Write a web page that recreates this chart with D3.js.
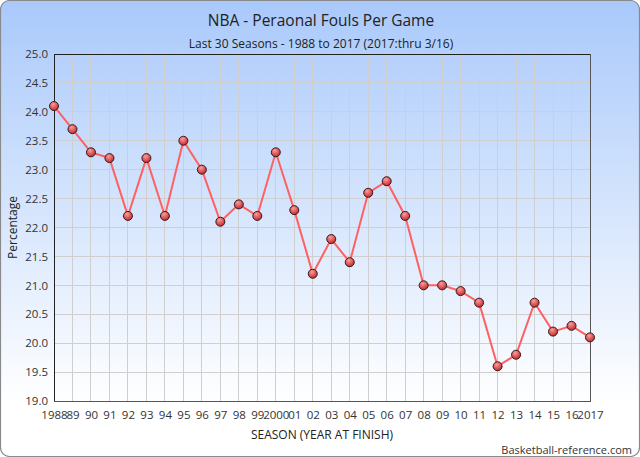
<!DOCTYPE html>
<html><head><meta charset="utf-8">
<script src="https://cdn.jsdelivr.net/npm/d3@7"></script>
<style>html,body{margin:0;padding:0;background:#fff;}svg{display:block;}</style>
</head><body>
<svg id="chart" width="640" height="457"></svg>
<script>
const seasons = ["1988","89","90","91","92","93","94","95","96","97","98","99","2000","01","02","03","04","05","06","07","08","09","10","11","12","13","14","15","16","2017"];
const fouls = [24.1,23.7,23.3,23.2,22.2,23.2,22.2,23.5,23.0,22.1,22.4,22.2,23.3,22.3,21.2,21.8,21.4,22.6,22.8,22.2,21.0,21.0,20.9,20.7,19.6,19.8,20.7,20.2,20.3,20.1];
const yTicks = [19.0,19.5,20.0,20.5,21.0,21.5,22.0,22.5,23.0,23.5,24.0,24.5,25.0];
const titleText = "NBA - Peraonal Fouls Per Game";
const subtitleText = "Last 30 Seasons - 1988 to 2017 (2017:thru 3/16)";
const xTitle = "SEASON (YEAR AT FINISH)";
const yTitle = "Percentage";
const credit = "Basketball-reference.com";

const W = 640, H = 457;
const m = {left:54, right:50, top:54, bottom:56};
const svg = d3.select("#chart");
const font = "'Open Sans', 'Noto Sans', sans-serif";
const defs = svg.append("defs");
const bg = defs.append("linearGradient").attr("id","bg").attr("x1",0).attr("y1",0).attr("x2",0).attr("y2",1);
bg.append("stop").attr("offset","0%").attr("stop-color","#a9c9fb");
bg.append("stop").attr("offset","88%").attr("stop-color","#ffffff");
bg.append("stop").attr("offset","100%").attr("stop-color","#ffffff");
const mk = defs.append("radialGradient").attr("id","mk").attr("cx","40%").attr("cy","30%").attr("r","70%");
mk.append("stop").attr("offset","0%").attr("stop-color","#f4a0a0");
mk.append("stop").attr("offset","60%").attr("stop-color","#e05555");
mk.append("stop").attr("offset","100%").attr("stop-color","#b83030");

svg.append("rect").attr("x",0.5).attr("y",0.5).attr("width",W-1).attr("height",H-1)
  .attr("rx",9).attr("ry",9).attr("fill","url(#bg)").attr("stroke","#8a8a8a").attr("stroke-width",1.2);

const x = d3.scalePoint().domain(seasons).range([m.left, W-m.right]);
const y = d3.scaleLinear().domain([19,25]).range([H-m.bottom, m.top]);

const g = svg.append("g");
// grid
g.append("g").selectAll("line").data(yTicks).join("line")
  .attr("x1",m.left).attr("x2",W-m.right).attr("y1",d=>y(d)).attr("y2",d=>y(d))
  .attr("stroke","#cfcfcf").attr("stroke-width",1).attr("shape-rendering","crispEdges");
g.append("g").selectAll("line").data(seasons).join("line")
  .attr("x1",d=>x(d)).attr("x2",d=>x(d)).attr("y1",m.top).attr("y2",H-m.bottom)
  .attr("stroke","#cfcfcf").attr("stroke-width",1).attr("shape-rendering","crispEdges");
// frame
g.append("rect").attr("x",m.left).attr("y",m.top).attr("width",W-m.left-m.right).attr("height",H-m.top-m.bottom)
  .attr("fill","none").attr("stroke","#555").attr("stroke-width",1).attr("shape-rendering","crispEdges");
g.append("line").attr("x1",m.left).attr("x2",m.left).attr("y1",m.top).attr("y2",H-m.bottom).attr("stroke","#222").attr("shape-rendering","crispEdges");
g.append("line").attr("x1",m.left).attr("x2",W-m.right).attr("y1",m.top).attr("y2",m.top).attr("stroke","#222").attr("shape-rendering","crispEdges");

// axes
const yAxis = d3.axisLeft(y).tickValues(yTicks).tickFormat(d3.format(".1f")).tickSize(0).tickPadding(6);
const ya = svg.append("g").attr("transform",`translate(${m.left},0)`).call(yAxis);
ya.select(".domain").remove();
ya.selectAll("text").attr("font-family",font).attr("font-size",11.5).attr("fill","#333");

const xAxis = d3.axisBottom(x).tickSize(0).tickPadding(10);
const xa = svg.append("g").attr("transform",`translate(0,${H-m.bottom})`).call(xAxis);
xa.select(".domain").remove();
xa.selectAll("text").attr("font-family",font).attr("font-size",11.5).attr("fill","#333");

// line
const line = d3.line().x((d,i)=>x(seasons[i])).y(d=>y(d));
svg.append("path").datum(fouls).attr("d",line).attr("fill","none").attr("stroke","#ff6060").attr("stroke-width",2);
svg.append("g").selectAll("circle").data(fouls).join("circle")
  .attr("cx",(d,i)=>x(seasons[i])).attr("cy",d=>y(d)).attr("r",4.5)
  .attr("fill","url(#mk)").attr("stroke","#3a1a1a").attr("stroke-width",1);

// titles
svg.append("text").attr("x",321).attr("y",26).attr("text-anchor","middle").attr("font-family",font)
  .attr("font-size",15.5).attr("fill","#222").text(titleText);
svg.append("text").attr("x",321).attr("y",48).attr("text-anchor","middle").attr("font-family",font)
  .attr("font-size",12).attr("fill","#222").text(subtitleText);
svg.append("text").attr("x",(m.left+W-m.right)/2).attr("y",439).attr("text-anchor","middle").attr("font-family",font)
  .attr("font-size",12).attr("fill","#222").text(xTitle);
svg.append("text").attr("transform",`translate(17,${(m.top+H-m.bottom)/2}) rotate(-90)`).attr("text-anchor","middle").attr("font-family",font)
  .attr("font-size",12).attr("fill","#222").text(yTitle);
svg.append("text").attr("x",632).attr("y",454).attr("text-anchor","end").attr("font-family",font)
  .attr("font-size",11).attr("fill","#333").text(credit);
</script>
</body></html>
